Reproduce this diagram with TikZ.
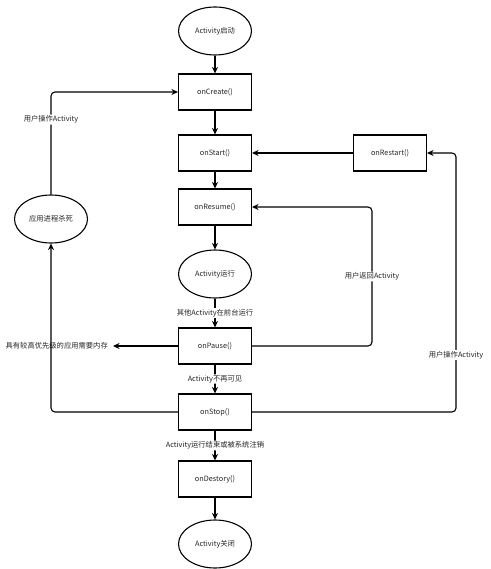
\documentclass[tikz,border=0pt]{standalone}
\usepackage{fontspec}
\setmainfont{Noto Sans CJK SC}
\usetikzlibrary{shapes.geometric,arrows.meta}
\begin{document}
\begin{tikzpicture}[x=1pt,y=-1pt,
  txt/.style={font=\fontsize{7.3}{8.5}\selectfont, text=black!85},
  box/.style={txt, draw, line width=1.1pt, minimum width=73pt, minimum height=36pt, inner sep=0pt},
  ell/.style={txt, draw, ellipse, line width=1.1pt, minimum width=73pt, minimum height=48pt, inner sep=0pt},
  conn/.style={line width=1.1pt, -{Stealth[length=6.5pt,width=6pt]}, rounded corners=4pt},
  lbl/.style={txt, fill=white, inner sep=1pt}]
\useasboundingbox (0,0) rectangle (490,569);
\node[ell] (start) at (215,31) {Activity启动};
\node[box] (create) at (215,92) {onCreate()};
\node[box] (startn) at (215,153) {onStart()};
\node[box] (restart) at (390,153) {onRestart()};
\node[box] (resume) at (215,207) {onResume()};
\node[ell] (kill) at (51,219) {应用进程杀死};
\node[ell] (run) at (215,274) {Activity运行};
\node[box] (pause) at (215,346) {onPause()};
\node[box] (stop) at (215,412) {onStop()};
\node[box] (destroy) at (215,479) {onDestory()};
\node[ell] (endn) at (215,544) {Activity关闭};
\node[txt, anchor=east, inner sep=0pt] (mem) at (108,346) {具有较高优先级的应用需要内存};
\coordinate (rb) at (372,346);
\coordinate (sb) at (456,412);

\draw[conn] (start) -- (create);
\draw[conn] (create) -- (startn);
\draw[conn] (startn) -- (resume);
\draw[conn] (resume) -- (run);
\draw[conn] (run) -- node[lbl] {其他Activity在前台运行} (pause);
\draw[conn] (pause) -- node[lbl] {Activity不再可见} (stop);
\draw[conn] (stop) -- node[lbl] {Activity运行结束或被系统注销} (destroy);
\draw[conn] (destroy) -- (endn);
\draw[conn] (restart) -- (startn);
\draw[conn] (pause.west) -- ([xshift=5pt]mem.east);
\draw[conn] (kill.north) -- node[lbl, pos=0.73] {用户操作Activity} (kill.north |- create.west) -- (create.west);
\draw[conn] (stop.west) -| (kill.south);
\draw[conn] (pause.east) -- (rb) -- node[lbl] {用户返回Activity} (rb |- resume.east) -- (resume.east);
\draw[conn] (stop.east) -- (sb) -- node[lbl, pos=0.22] {用户操作Activity} (sb |- restart.east) -- (restart.east);
\end{tikzpicture}
\end{document}
